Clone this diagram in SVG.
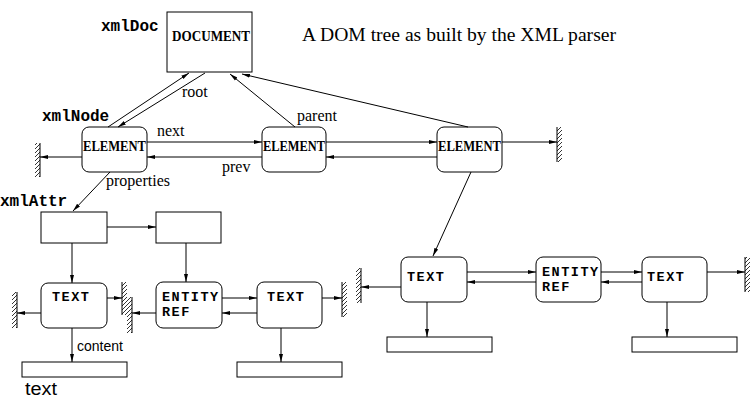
<svg xmlns="http://www.w3.org/2000/svg" width="755" height="400" viewBox="0 0 755 400">
<style>
.box{fill:#fff;stroke:#000;stroke-width:1}
.ln{fill:none;stroke:#000;stroke-width:1}
.arr{fill:none;stroke:#000;stroke-width:1;marker-end:url(#ah)}
.wall{fill:url(#hatch);stroke:none}
.el{font-family:"Liberation Serif",serif;font-weight:bold;font-size:14px}
.mono{font-family:"Liberation Mono",monospace;font-weight:bold;font-size:16px}
.nd{font-family:"Liberation Mono",monospace;font-weight:bold;font-size:13.5px;letter-spacing:1.5px}
.lbl{font-family:"Liberation Serif",serif;font-size:16px}
</style>
<defs>
<marker id="ah" viewBox="0 0 8 6" refX="8" refY="3" markerWidth="8" markerHeight="6" markerUnits="userSpaceOnUse" orient="auto">
<path d="M0,1 L8,3 L0,5 z" fill="#000"/>
</marker>
<pattern id="hatch" patternUnits="userSpaceOnUse" width="4" height="4">
<path d="M0,4 L4,0 M-1,1 L1,-1 M3,5 L5,3" stroke="#000" stroke-width="0.8"/>
</pattern>
</defs>

<text x="302" y="41" font-family="Liberation Serif,serif" font-size="19" textLength="314" lengthAdjust="spacingAndGlyphs">A DOM tree as built by the XML parser</text>

<g id="document">
<rect class="box" x="167" y="12" width="85" height="60"/>
<text class="el" x="172" y="41" textLength="78" lengthAdjust="spacingAndGlyphs">DOCUMENT</text>
<text class="mono" x="101" y="31">xmlDoc</text>
</g>

<g id="element1">
<rect class="box" x="82" y="127" width="65" height="45" rx="7"/>
<text class="el" x="83" y="151" textLength="63" lengthAdjust="spacingAndGlyphs">ELEMENT</text>
<text class="mono" x="42" y="121">xmlNode</text>
</g>
<g id="element2">
<rect class="box" x="262" y="127" width="64" height="45" rx="7"/>
<text class="el" x="263" y="151" textLength="62" lengthAdjust="spacingAndGlyphs">ELEMENT</text>
</g>
<g id="element3">
<rect class="box" x="437" y="127" width="65" height="45" rx="7"/>
<text class="el" x="438" y="151" textLength="63" lengthAdjust="spacingAndGlyphs">ELEMENT</text>
</g>

<g id="attr1">
<rect class="box" x="41" y="212" width="66" height="31"/>
<text class="mono" x="0" y="206">xmlAttr</text>
</g>
<g id="attr2">
<rect class="box" x="156" y="212" width="65" height="31"/>
</g>

<g id="text1">
<rect class="box" x="41" y="283" width="66" height="45" rx="7"/>
<text class="nd" x="52" y="301">TEXT</text>
</g>
<g id="entityref1">
<rect class="box" x="156" y="282" width="66" height="46" rx="7"/>
<text class="nd" x="162" y="301">ENTITY</text>
<text class="nd" x="162" y="316">REF</text>
</g>
<g id="text2">
<rect class="box" x="257" y="282" width="65" height="46" rx="7"/>
<text class="nd" x="267" y="301">TEXT</text>
</g>
<g id="content1">
<rect class="box" x="22" y="362" width="105" height="15"/>
<text x="25" y="395" font-family="Liberation Sans,sans-serif" font-size="18" textLength="32" lengthAdjust="spacingAndGlyphs">text</text>
</g>
<g id="content2">
<rect class="box" x="237" y="362" width="105" height="15"/>
</g>

<g id="text3">
<rect class="box" x="401" y="257" width="66" height="45" rx="7"/>
<text class="nd" x="407" y="281">TEXT</text>
</g>
<g id="entityref2">
<rect class="box" x="536" y="257" width="65" height="45" rx="7"/>
<text class="nd" x="542" y="276">ENTITY</text>
<text class="nd" x="542" y="291">REF</text>
</g>
<g id="text4">
<rect class="box" x="642" y="257" width="65" height="45" rx="7"/>
<text class="nd" x="647" y="281">TEXT</text>
</g>
<g id="content3">
<rect class="box" x="387" y="337" width="105" height="15"/>
</g>
<g id="content4">
<rect class="box" x="632" y="337" width="105" height="15"/>
</g>

<g id="walls">
<rect class="wall" x="35" y="143" width="5" height="34"/><line class="ln" x1="40" y1="143" x2="40" y2="177"/>
<rect class="wall" x="557" y="127" width="5" height="35"/><line class="ln" x1="557" y1="127" x2="557" y2="162"/>
<rect class="wall" x="12" y="292" width="5" height="36"/><line class="ln" x1="17" y1="292" x2="17" y2="328"/>
<rect class="wall" x="122" y="282" width="5" height="33"/><line class="ln" x1="122" y1="282" x2="122" y2="315"/>
<rect class="wall" x="127" y="297" width="5" height="36"/><line class="ln" x1="132" y1="297" x2="132" y2="333"/>
<rect class="wall" x="342" y="282" width="5" height="35"/><line class="ln" x1="342" y1="282" x2="342" y2="317"/>
<rect class="wall" x="356" y="268" width="5" height="35"/><line class="ln" x1="361" y1="268" x2="361" y2="303"/>
<rect class="wall" x="745" y="257" width="5" height="35"/><line class="ln" x1="745" y1="257" x2="745" y2="292"/>
</g>

<g id="connectors">
<line class="arr" x1="108" y1="127" x2="189" y2="73"/>
<line class="arr" x1="205" y1="73" x2="118" y2="127"/>
<line class="arr" x1="295" y1="127" x2="230" y2="74"/>
<line class="arr" x1="468" y1="127" x2="242" y2="74"/>
<line class="arr" x1="147" y1="142" x2="262" y2="142"/>
<line class="arr" x1="262" y1="157" x2="147" y2="157"/>
<line class="arr" x1="326" y1="142" x2="437" y2="142"/>
<line class="arr" x1="437" y1="157" x2="326" y2="157"/>
<line class="arr" x1="82" y1="157" x2="40" y2="157"/>
<line class="arr" x1="502" y1="142" x2="557" y2="142"/>
<line class="arr" x1="110" y1="172" x2="73" y2="211"/>
<line class="arr" x1="107" y1="227" x2="156" y2="227"/>
<line class="arr" x1="72" y1="243" x2="72" y2="283"/>
<line class="arr" x1="186" y1="243" x2="186" y2="282"/>
<line class="arr" x1="41" y1="313" x2="17" y2="313"/>
<line class="arr" x1="107" y1="298" x2="122" y2="298"/>
<line class="arr" x1="156" y1="313" x2="132" y2="313"/>
<line class="arr" x1="222" y1="298" x2="257" y2="298"/>
<line class="arr" x1="257" y1="313" x2="222" y2="313"/>
<line class="arr" x1="322" y1="298" x2="342" y2="298"/>
<line class="arr" x1="72" y1="328" x2="72" y2="362"/>
<line class="arr" x1="281" y1="328" x2="281" y2="362"/>
<line class="arr" x1="471" y1="172" x2="433" y2="256"/>
<line class="arr" x1="401" y1="287" x2="361" y2="287"/>
<line class="arr" x1="467" y1="272" x2="536" y2="272"/>
<line class="arr" x1="536" y1="282" x2="467" y2="282"/>
<line class="arr" x1="601" y1="272" x2="642" y2="272"/>
<line class="arr" x1="642" y1="282" x2="601" y2="282"/>
<line class="arr" x1="707" y1="272" x2="745" y2="272"/>
<line class="arr" x1="427" y1="302" x2="427" y2="337"/>
<line class="arr" x1="667" y1="302" x2="667" y2="337"/>
<text class="lbl" x="182" y="97">root</text>
<text class="lbl" x="297" y="121">parent</text>
<text class="lbl" x="157" y="136">next</text>
<text class="lbl" x="222" y="172">prev</text>
<text class="lbl" x="106" y="186">properties</text>
<text x="77" y="351" font-family="Liberation Sans,sans-serif" font-size="14">content</text>
</g>
</svg>
